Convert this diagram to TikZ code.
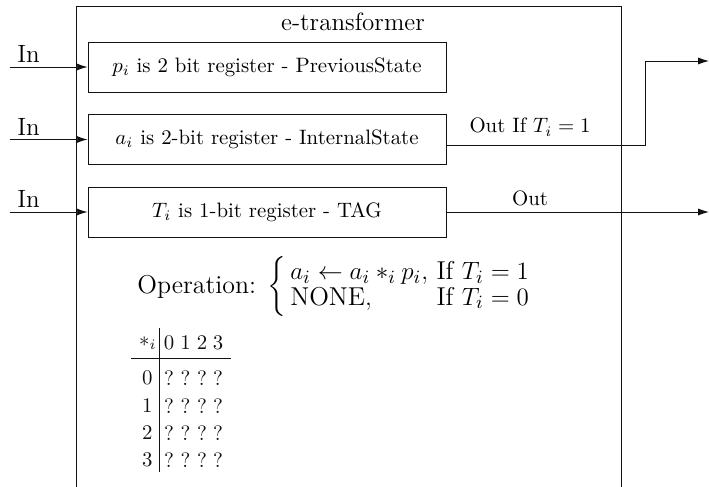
\documentclass[tikz,border=0pt]{standalone}
\usepackage{amsmath}
\usetikzlibrary{arrows.meta,calc}
\definecolor{ink}{HTML}{111111}
\newcommand{\tabfont}{\normalsize}
\newcommand{\opfont}{\fontsize{12.4}{14}\selectfont}

\tikzset{
  register/.style={draw=ink,minimum width=171.8pt,minimum height=24pt,inner sep=0},
  wire/.style={ink,line width=0.45pt},
  arr/.style={wire,-{Latex[length=5.2pt,width=3.4pt]}},
  cell/.style={inner sep=0,font=\tabfont,text=ink},
}

\begin{document}
\begin{tikzpicture}[x=0.48pt,y=-0.48pt,font=\normalsize]
\useasboundingbox (0,0) rectangle (709,487);
\clip (0,0) rectangle (709,487);
% block
\draw[wire] (76,6) rectangle (621,520);
\node[anchor=base,inner sep=0,font=\large] (title) at (353,31) {e-transformer};
% registers
\node[register] (preg) at (267,67) {$p_i$ is 2 bit register - PreviousState};
\node[register] (areg) at (267,139.5) {$a_i$ is 2-bit register - InternalState};
\node[register] (treg) at (267,212) {$T_i$ is 1-bit register - TAG};
% inputs
\foreach \r/\y in {preg/67,areg/139.5,treg/212}{
  \coordinate (in-\r) at (10,\y);
  \draw[arr] (in-\r) -- (\r.west);
  \node[anchor=base west,inner sep=0,font=\large] (lbl-\r) at (17,{\y-4}) {In};
}
% outputs
\coordinate (bend) at (645,145.5);
\coordinate (out-a) at (709,61);
\coordinate (out-t) at (709,212);
\draw[arr] (bend -| areg.east) -- (bend) |- (out-a);
\draw[arr] (treg.east) -- (out-t);
\node[anchor=base,inner sep=0] (lbl-a) at (530,133) {Out If $T_i = 1$};
\node[anchor=base,inner sep=0] (lbl-t) at (530,206) {Out};
% operation
\node[anchor=west,inner sep=0,font=\opfont] (op) at (137,287)
  {Operation: \renewcommand{\arraystretch}{0.85}$\left\{\,\begin{array}{@{}l@{\ }l@{}} a_i \leftarrow a_i *_i p_i, & \text{If } T_i = 1\\ \text{NONE}, & \text{If } T_i = 0\end{array}\right.$};
% table
\draw[wire] (159,328) -- (159,472);
\draw[wire] (131,358) -- (231,358);
\node[cell,anchor=east] (star) at (157,343) {$*_i$};
\foreach \c [count=\k from 0] in {169,185.5,202,218}{
  \node[cell] (h\k) at (\c,343) {\k};
  \foreach \r [count=\j from 0] in {378,406,433,460}
    \node[cell] (c\j\k) at (\c,\r) {?};
}
\foreach \r [count=\j from 0] in {378,406,433,460}
  \node[cell,anchor=east] (row\j) at (153,\r) {\j};
\end{tikzpicture}
\end{document}
